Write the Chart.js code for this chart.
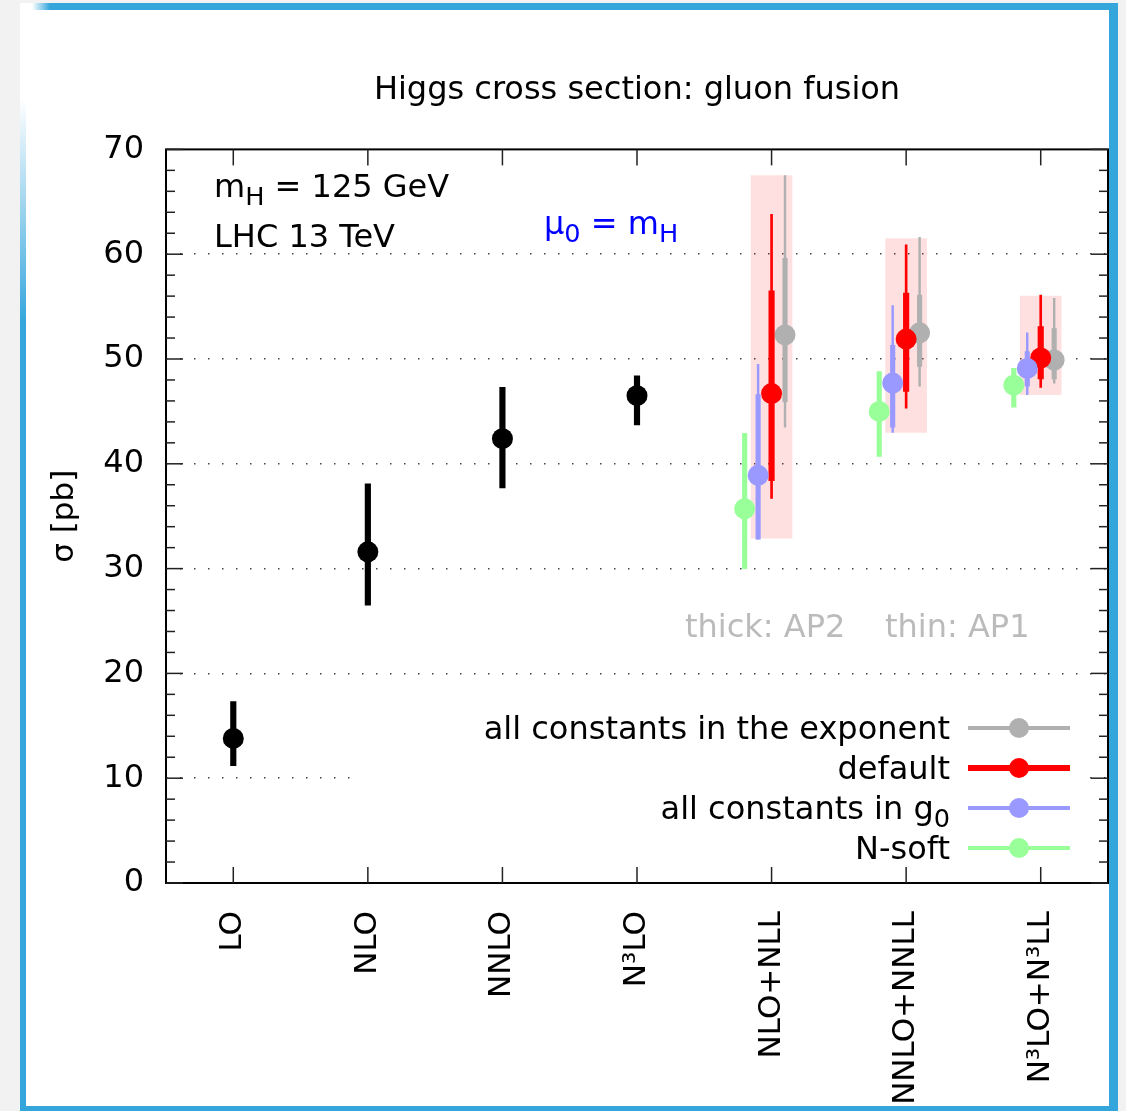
<!DOCTYPE html>
<html>
<head>
<meta charset="utf-8">
<script src="https://cdn.jsdelivr.net/npm/chart.js@4.4.1/dist/chart.umd.min.js"></script>
<style>
  html, body { margin: 0; padding: 0; background: #f2f2f2; }
  body { width: 1126px; height: 1111px; position: relative; overflow: hidden; }
  .frame {
    position: absolute; left: 20px; top: 3px; width: 1098px; height: 1108px;
    box-sizing: border-box; background: #fff;
    border-style: solid; border-color: #35a6dc; border-width: 7px 9px 5px 6px;
  }
  /* left edge of the frame fades out towards the top */
  .frame::before {
    content: ""; position: absolute; left: -6px; top: -7px; width: 7px; height: 320px;
    background: linear-gradient(#fff 0%, #fff 30%, rgba(255,255,255,0) 100%);
  }
  .frame::after {
    content: ""; position: absolute; left: -6px; top: -7px; width: 30px; height: 8px;
    background: linear-gradient(90deg, #fff 40%, rgba(255,255,255,0));
  }
  #chart { position: absolute; left: 0; top: 0; }
</style>
</head>
<body>
<div class="frame"></div>
<canvas id="chart" width="1126" height="1111"></canvas>
<script>
const FONT = "'DejaVu Sans', sans-serif";

const categories = ['LO', 'NLO', 'NNLO', 'N³LO', 'NLO+NLL', 'NNLO+NNLL', 'N³LO+N³LL'];

// fixed order results (black)
const foPos = [1, 2, 3, 4];
const foCentral = [13.8, 31.6, 42.4, 46.5];
const foLow = [11.2, 26.5, 37.7, 43.7];
const foHigh = [17.3, 38.1, 47.3, 48.4];

// resummed results sit on categories 5..7
const resPos = [5, 6, 7];

// all constants in the exponent (gray)
const expCentral = [52.3, 52.5, 49.9];
const expThickLow = [45.9, 49.3, 48.1];
const expThickHigh = [59.6, 56.1, 52.9];
const expThinLow = [43.5, 47.4, 47.7];
const expThinHigh = [67.5, 61.6, 55.8];

// default (red)
const defCentral = [46.7, 51.9, 50.1];
const defThickLow = [38.4, 46.9, 48.1];
const defThickHigh = [56.5, 56.3, 53.1];
const defThinLow = [36.7, 45.3, 47.3];
const defThinHigh = [63.8, 60.9, 56.1];

// all constants in g0 (blue)
const g0Central = [38.9, 47.7, 49.1];
const g0ThickLow = [32.8, 43.5, 47.4];
const g0ThickHigh = [46.6, 51.3, 50.7];
const g0ThinLow = [32.8, 43.0, 46.6];
const g0ThinHigh = [49.5, 55.1, 52.5];

// N-soft (green)
const nsCentral = [35.7, 45.0, 47.5];
const nsLow = [30.0, 40.7, 45.4];
const nsHigh = [42.9, 48.8, 49.1];

// envelope box
const envLow = [32.9, 43.0, 46.6];
const envHigh = [67.5, 61.5, 56.0];

const GRAY = '#b0b0b0', RED = '#ff0000', BLUE = '#9999ff', GREEN = '#99ff99';

function bars(pos, off, lo, hi) {
  return pos.map((p, i) => ({ x: p + off, y: [lo[i], hi[i]] }));
}
function pts(pos, off, c) {
  return pos.map((p, i) => ({ x: p + off, y: c[i] }));
}
function barSet(data, color, w, order) {
  return { type: 'bar', data, backgroundColor: color, borderWidth: 0, barThickness: w, grouped: false, order };
}
function ptSet(data, color, order) {
  return { type: 'scatter', data, backgroundColor: color, pointRadius: 10.5, pointHoverRadius: 10.5,
           pointBorderWidth: 0, borderWidth: 0, showLine: false, order };
}

const datasets = [
  barSet(bars(resPos, 0, envLow, envHigh), 'rgba(255,0,0,0.12)', 41, 100),
  barSet(bars(resPos, 0.1, expThinLow, expThinHigh), GRAY, 1.8, 62),
  barSet(bars(resPos, 0.1, expThickLow, expThickHigh), GRAY, 4.5, 61),
  ptSet(pts(resPos, 0.1, expCentral), GRAY, 60),
  barSet(bars(resPos, 0, defThinLow, defThinHigh), RED, 2, 52),
  barSet(bars(resPos, 0, defThickLow, defThickHigh), RED, 5.5, 51),
  ptSet(pts(resPos, 0, defCentral), RED, 50),
  barSet(bars(resPos, -0.1, g0ThinLow, g0ThinHigh), BLUE, 1.8, 42),
  barSet(bars(resPos, -0.1, g0ThickLow, g0ThickHigh), BLUE, 4.5, 41),
  ptSet(pts(resPos, -0.1, g0Central), BLUE, 40),
  barSet(bars(resPos, -0.2, nsLow, nsHigh), GREEN, 4.5, 31),
  ptSet(pts(resPos, -0.2, nsCentral), GREEN, 30),
  barSet(bars(foPos, 0, foLow, foHigh), '#000', 5.5, 21),
  ptSet(pts(foPos, 0, foCentral), '#000', 20)
];

const legendItems = [
  { parts: [['all constants in the exponent']], color: GRAY, lw: 4 },
  { parts: [['default']], color: RED, lw: 6 },
  { parts: [['all constants in g'], ['0', 'sub']], color: BLUE, lw: 4 },
  { parts: [['N-soft']], color: GREEN, lw: 4 }
];

// draw text made of normal / subscript pieces; returns width
function richText(ctx, parts, x, baseline, size, align) {
  const widths = parts.map(([t, k]) => {
    ctx.font = (k === 'sub' ? size * 0.8 : size) + 'px ' + FONT;
    return ctx.measureText(t).width;
  });
  const total = widths.reduce((a, b) => a + b, 0);
  let cx = align === 'right' ? x - total : x;
  ctx.textAlign = 'left';
  ctx.textBaseline = 'alphabetic';
  parts.forEach(([t, k], i) => {
    ctx.font = (k === 'sub' ? size * 0.8 : size) + 'px ' + FONT;
    ctx.fillText(t, cx, baseline + (k === 'sub' ? 7.5 : 0));
    cx += widths[i];
  });
  return total;
}

const decorations = {
  id: 'decorations',
  afterDraw(chart) {
    const { ctx, chartArea: a, scales: { x, y } } = chart;
    ctx.save();

    // key box (opaque, hides the grid behind it)
    ctx.fillStyle = '#fff';
    ctx.fillRect(352, 692, 733, 172);
    legendItems.forEach((it, i) => {
      const ry = 728 + 40 * i;
      ctx.fillStyle = '#000';
      richText(ctx, it.parts, 950, ry + 11, 32, 'right');
      ctx.strokeStyle = it.color;
      ctx.lineWidth = it.lw;
      ctx.beginPath(); ctx.moveTo(968, ry); ctx.lineTo(1070, ry); ctx.stroke();
      ctx.fillStyle = it.color;
      ctx.beginPath(); ctx.arc(1019, ry, 10, 0, Math.PI * 2); ctx.fill();
    });

    // labels inside the plot
    ctx.fillStyle = '#000';
    richText(ctx, [['m'], ['H', 'sub'], [' = 125 GeV']], 214, 197, 32, 'left');
    richText(ctx, [['LHC 13 TeV']], 214, 247, 32, 'left');
    ctx.fillStyle = '#0000ff';
    richText(ctx, [['μ'], ['0', 'sub'], [' = m'], ['H', 'sub']], 544, 234, 32, 'left');
    ctx.fillStyle = '#bbbbbb';
    richText(ctx, [['thick: AP2']], 685, 637, 32, 'left');
    richText(ctx, [['thin: AP1']], 885, 637, 32, 'left');

    // border
    ctx.strokeStyle = '#000';
    ctx.lineWidth = 2;
    ctx.strokeRect(a.left, a.top, a.right - a.left, a.bottom - a.top);

    // inward ticks (mirrored)
    ctx.strokeStyle = '#222';
    ctx.lineWidth = 1.5;
    const seg = (x1, y1, x2, y2) => { ctx.beginPath(); ctx.moveTo(x1, y1); ctx.lineTo(x2, y2); ctx.stroke(); };
    for (let v = y.min; v <= y.max; v += 2) {
      const py = y.getPixelForValue(v);
      const len = v % 10 === 0 ? 17 : 9;
      seg(a.left, py, a.left + len, py);
      seg(a.right, py, a.right - len, py);
    }
    x.ticks.forEach(t => {
      const px = x.getPixelForValue(t.value);
      seg(px, a.bottom, px, a.bottom - 16);
      seg(px, a.top, px, a.top + 16);
    });
    ctx.restore();
  }
};

new Chart(document.getElementById('chart'), {
  type: 'scatter',
  data: { datasets },
  options: {
    responsive: false,
    animation: false,
    devicePixelRatio: 1,
    layout: { padding: { left: 0, right: 18, top: 0, bottom: 0 } },
    plugins: {
      legend: { display: false },
      tooltip: { enabled: false },
      title: {
        display: true,
        fullSize: false,
        text: 'Higgs cross section: gluon fusion',
        color: '#000',
        font: { family: FONT, size: 32, weight: 'normal' },
        padding: { top: 71, bottom: 40 }
      }
    },
    scales: {
      x: {
        type: 'linear', min: 0.5, max: 7.5, offset: false,
        grid: { display: false, offset: false },
        border: { display: false },
        afterBuildTicks: s => { s.ticks = categories.map((c, i) => ({ value: i + 1 })); },
        ticks: {
          autoSkip: false, minRotation: 90, maxRotation: 90, padding: 20,
          color: '#000', font: { family: FONT, size: 31 },
          callback: v => categories[v - 1]
        },
        afterFit: s => { s.height = 228; }
      },
      y: {
        type: 'linear', min: 0, max: 70,
        ticks: { stepSize: 10, padding: 22, color: '#000', font: { family: FONT, size: 32 } },
        grid: {
          drawTicks: false, lineWidth: 1.5,
          color: c => (c.tick && (c.tick.value === 0 || c.tick.value === 70)) ? 'rgba(0,0,0,0)' : '#444'
        },
        border: { display: false, dash: [1.5, 12.5] },
        title: {
          display: true, text: 'σ [pb]', color: '#000',
          font: { family: FONT, size: 31 }, padding: { top: 46, bottom: 0 }
        },
        afterFit: s => { s.width = 166; }
      }
    }
  },
  plugins: [decorations]
});
</script>
</body>
</html>
